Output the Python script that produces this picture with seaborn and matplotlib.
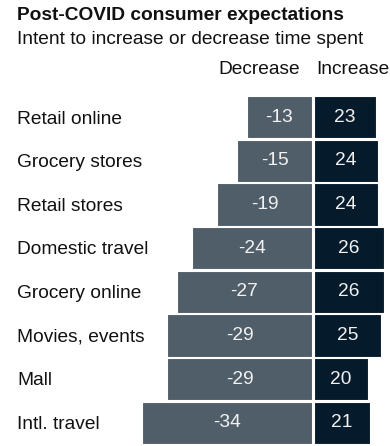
import matplotlib
matplotlib.use("Agg")
import matplotlib.pyplot as plt
import matplotlib.transforms as mtransforms
import seaborn as sns
import pandas as pd

sns.set_theme(style="white")
plt.rcParams["font.family"] = ["Liberation Sans", "DejaVu Sans"]

categories = ["Retail online", "Grocery stores", "Retail stores", "Domestic travel",
              "Grocery online", "Movies, events", "Mall", "Intl. travel"]
decrease = [-13, -15, -19, -24, -27, -29, -29, -34]
increase = [23, 24, 24, 26, 26, 25, 20, 21]

title = "Post-COVID consumer expectations"
subtitle = "Intent to increase or decrease time spent"

dec_color = "#505e6a"
inc_color = "#051a2a"
text_color = "#111111"
fs = 13.8

df = pd.DataFrame({"category": categories, "decrease": decrease, "increase": increase})

W, H = 390, 446
fig = plt.figure(figsize=(W / 100, H / 100), dpi=100)

def px_axes(x0, x1, y_top, y_bot):
    return fig.add_axes([x0 / W, 1 - y_bot / H, (x1 - x0) / W, (y_bot - y_top) / H])

y_top, y_bot = 95.5, 444.5
ax_dec = px_axes(0, 312, y_top, y_bot)
ax_inc = px_axes(314, 390, y_top, y_bot)

sns.barplot(data=df, x="decrease", y="category", ax=ax_dec, color=dec_color,
            width=0.97, edgecolor="white", linewidth=0.8, saturation=1)
sns.barplot(data=df, x="increase", y="category", ax=ax_inc, color=inc_color,
            width=0.97, edgecolor="white", linewidth=0.8, saturation=1)

ax_dec.set_xlim(-62.4, 0)
ax_inc.set_xlim(0, 28.4)
for ax in (ax_dec, ax_inc):
    ax.set_ylim(len(categories) - 0.5, -0.5)
    ax.axis("off")

for i, (d, v) in enumerate(zip(decrease, increase)):
    ax_dec.text(d / 2, i, f"{d}", ha="center", va="center", color="#f2f2f2", fontsize=fs)
    ax_inc.text(v / 2, i, f"{v}", ha="center", va="center", color="#f2f2f2", fontsize=fs)

# category names at the left edge of the figure
trans = mtransforms.blended_transform_factory(fig.transFigure, ax_dec.transData)
for i, c in enumerate(categories):
    fig.text(17 / W, i + 0.04, c, transform=trans, ha="left", va="center", fontsize=fs,
             color=text_color)

fig.text(17 / W, 1 - 15 / H, title, ha="left", va="center", fontsize=fs,
         fontweight="bold", color=text_color)
fig.text(17 / W, 1 - 39 / H, subtitle, ha="left", va="center", fontsize=fs, color=text_color)
fig.text(259 / W, 1 - 69 / H, "Decrease", ha="center", va="center", fontsize=fs, color=text_color)
fig.text(316 / W, 1 - 69 / H, "Increase", ha="left", va="center", fontsize=fs, color=text_color)

fig.savefig("out.png", dpi=100, facecolor="white")
